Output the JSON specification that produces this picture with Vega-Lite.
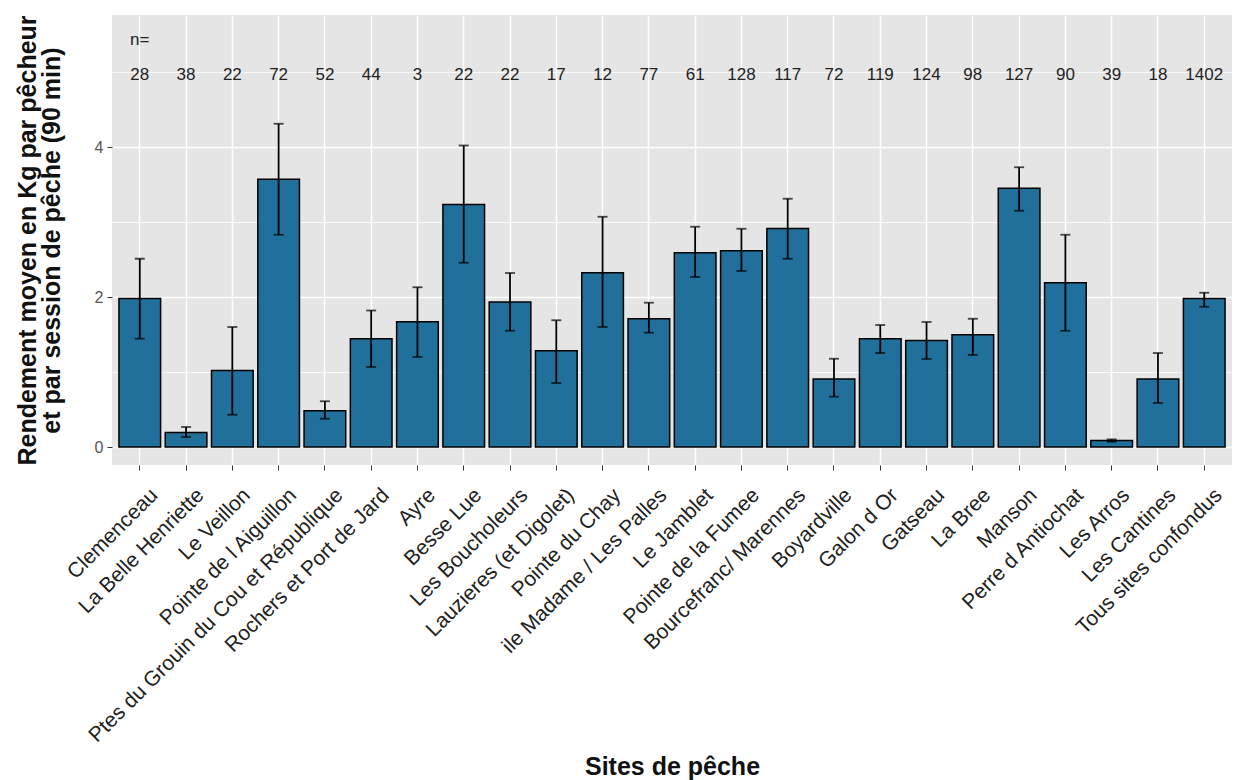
{
  "$schema": "https://vega.github.io/schema/vega-lite/v6.json",
  "width": 1120,
  "height": 450,
  "autosize": {"type": "none"},
  "padding": {"left": 112, "top": 15, "right": 3, "bottom": 315},
  "background": "white",
  "config": {
    "view": {"fill": "#e5e5e5", "stroke": null},
    "font": "Liberation Sans"
  },
  "data": {
    "values": [
      {"site": "Clemenceau", "mean": 1.98, "lo": 1.445, "hi": 2.51, "n": "28"},
      {"site": "La Belle Henriette", "mean": 0.195, "lo": 0.133, "hi": 0.267, "n": "38"},
      {"site": "Le Veillon", "mean": 1.02, "lo": 0.43, "hi": 1.6, "n": "22"},
      {"site": "Pointe de l Aiguillon", "mean": 3.57, "lo": 2.83, "hi": 4.31, "n": "72"},
      {"site": "Ptes du Grouin du Cou et République", "mean": 0.484, "lo": 0.377, "hi": 0.61, "n": "52"},
      {"site": "Rochers et Port de Jard", "mean": 1.445, "lo": 1.067, "hi": 1.82, "n": "44"},
      {"site": "Ayre", "mean": 1.67, "lo": 1.2, "hi": 2.13, "n": "3"},
      {"site": "Besse Lue", "mean": 3.235, "lo": 2.457, "hi": 4.02, "n": "22"},
      {"site": "Les Boucholeurs", "mean": 1.933, "lo": 1.55, "hi": 2.32, "n": "22"},
      {"site": "Lauzieres (et Digolet)", "mean": 1.284, "lo": 0.853, "hi": 1.69, "n": "17"},
      {"site": "Pointe du Chay", "mean": 2.324, "lo": 1.6, "hi": 3.07, "n": "12"},
      {"site": "ile Madame / Les Palles", "mean": 1.71, "lo": 1.524, "hi": 1.924, "n": "77"},
      {"site": "Le Jamblet", "mean": 2.59, "lo": 2.267, "hi": 2.937, "n": "61"},
      {"site": "Pointe de la Fumee", "mean": 2.617, "lo": 2.347, "hi": 2.91, "n": "128"},
      {"site": "Bourcefranc/ Marennes", "mean": 2.915, "lo": 2.51, "hi": 3.31, "n": "117"},
      {"site": "Boyardville", "mean": 0.906, "lo": 0.671, "hi": 1.177, "n": "72"},
      {"site": "Galon d Or", "mean": 1.444, "lo": 1.253, "hi": 1.627, "n": "119"},
      {"site": "Gatseau", "mean": 1.42, "lo": 1.173, "hi": 1.667, "n": "124"},
      {"site": "La Bree", "mean": 1.497, "lo": 1.227, "hi": 1.71, "n": "98"},
      {"site": "Manson", "mean": 3.45, "lo": 3.15, "hi": 3.73, "n": "127"},
      {"site": "Perre d Antiochat", "mean": 2.19, "lo": 1.55, "hi": 2.83, "n": "90"},
      {"site": "Les Arros", "mean": 0.088, "lo": 0.07, "hi": 0.102, "n": "39"},
      {"site": "Les Cantines", "mean": 0.906, "lo": 0.587, "hi": 1.253, "n": "18"},
      {"site": "Tous sites confondus", "mean": 1.98, "lo": 1.87, "hi": 2.057, "n": "1402"}
    ]
  },
  "encoding": {
    "x": {
      "field": "site",
      "type": "nominal",
      "sort": null,
      "scale": {"paddingInner": 0.1, "paddingOuter": 0.15},
      "axis": {
        "bandPosition": 0.5,
        "grid": true,
        "gridColor": "white",
        "gridWidth": 1.5,
        "domain": false,
        "ticks": true,
        "tickColor": "#333333",
        "tickSize": 5,
        "tickWidth": 1,
        "labelAngle": -45,
        "labelAlign": "right",
        "labelBaseline": "top",
        "labelOffset": 7,
        "labelPadding": 14,
        "labelFontSize": 21,
        "labelColor": "#222222",
        "labelOverlap": false,
        "labelBound": false,
        "labelLimit": 0,
        "title": "Sites de pêche",
        "titleFontSize": 25,
        "titleFontWeight": "bold",
        "titleColor": "#111111",
        "titleBaseline": "alphabetic",
        "titleY": 309
      }
    }
  },
  "layer": [
    {
      "mark": {"type": "bar", "fill": "#21709b", "stroke": "black", "strokeWidth": 1.5},
      "encoding": {
        "y": {
          "field": "mean",
          "type": "quantitative",
          "scale": {"domain": [-0.24, 5.76], "nice": false, "zero": false},
          "axis": {
            "values": [0, 1, 2, 3, 4, 5],
            "labelExpr": "datum.value % 2 === 0 ? format(datum.value, 'd') : ''",
            "grid": true,
            "gridColor": "white",
            "gridWidth": {"condition": {"test": "datum.value % 2 === 1", "value": 0.8}, "value": 1.5},
            "domain": false,
            "tickColor": "#333333",
            "tickSize": 5,
            "tickOpacity": {"condition": {"test": "datum.value % 2 === 1", "value": 0}, "value": 1},
            "labelFontSize": 16,
            "labelColor": "#555555",
            "labelPadding": 4,
            "title": ["Rendement moyen en Kg par pêcheur", "et par session de pêche (90 min)"],
            "titleFontSize": 25,
            "titleFontWeight": "bold",
            "titleColor": "#111111",
            "titleLineHeight": 24,
            "titlePadding": 30
          }
        },
        "y2": {"datum": 0}
      }
    },
    {
      "mark": {"type": "rule", "color": "black", "strokeWidth": 1.8},
      "encoding": {
        "y": {"field": "lo", "type": "quantitative"},
        "y2": {"field": "hi"}
      }
    },
    {
      "mark": {"type": "tick", "color": "black", "size": 10, "thickness": 1.8},
      "encoding": {"y": {"field": "lo", "type": "quantitative"}}
    },
    {
      "mark": {"type": "tick", "color": "black", "size": 10, "thickness": 1.8},
      "encoding": {"y": {"field": "hi", "type": "quantitative"}}
    },
    {
      "mark": {"type": "text", "fontSize": 17, "color": "#222222", "baseline": "middle"},
      "encoding": {
        "y": {"datum": 4.96, "type": "quantitative"},
        "text": {"field": "n"}
      }
    },
    {
      "transform": [{"filter": "datum.site === 'Clemenceau'"}],
      "mark": {"type": "text", "fontSize": 17, "color": "#222222", "baseline": "middle"},
      "encoding": {
        "y": {"datum": 5.43, "type": "quantitative"},
        "text": {"value": "n="}
      }
    }
  ]
}
